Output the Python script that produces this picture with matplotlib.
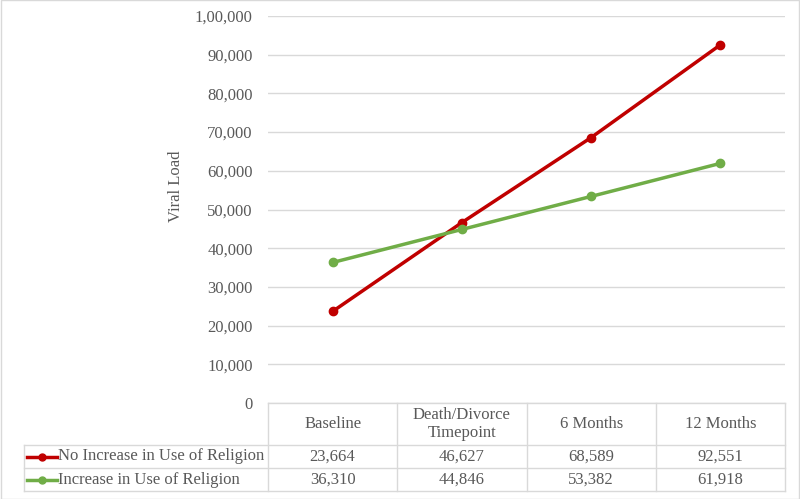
import matplotlib.pyplot as plt
from matplotlib.lines import Line2D
from matplotlib.ticker import FuncFormatter
from matplotlib.transforms import blended_transform_factory

categories = ["Baseline", "Death/Divorce\nTimepoint", "6 Months", "12 Months"]
series_names = ["No Increase in Use of Religion", "Increase in Use of Religion"]
no_increase = [23664, 46627, 68589, 92551]
increase = [36310, 44846, 53382, 61918]
colors = ["#c00000", "#70ad47"]

plt.rcParams["font.family"] = ["Liberation Serif", "DejaVu Serif"]
TXT = "#595959"
GRID = "#d9d9d9"
FS = 12


def indian_fmt(v, _pos):
    v = int(round(v))
    s = str(v)
    if len(s) <= 3:
        return s
    head, tail = s[:-3], s[-3:]
    groups = []
    while len(head) > 2:
        groups.insert(0, head[-2:])
        head = head[:-2]
    if head:
        groups.insert(0, head)
    return ",".join(groups + [tail])


fig = plt.figure(figsize=(8, 4.99), dpi=100)
ax = fig.add_axes([268 / 800, 1 - 403 / 499, 517 / 800, 387 / 499])

x = [i + 0.5 for i in range(len(categories))]
for vals, c in zip([no_increase, increase], colors):
    ax.plot(x, vals, color=c, lw=2.5, marker="o", ms=6, zorder=3)

ax.set_xlim(0, len(categories))
ax.set_ylim(0, 100000)
ax.set_yticks(range(0, 100001, 10000))
ax.yaxis.set_major_formatter(FuncFormatter(indian_fmt))
ax.set_xticks([])
ax.grid(axis="y", color=GRID, lw=1)
ax.set_axisbelow(True)
for s in ax.spines.values():
    s.set_visible(False)
ax.tick_params(axis="y", length=0, pad=11, labelsize=FS, labelcolor=TXT)
ax.set_ylabel("Viral Load", fontsize=FS, color=TXT)
ax.yaxis.set_label_coords(-0.162, 0.56)

# data table under the plot
tr = blended_transform_factory(ax.transData, fig.transFigure)
fy = lambda px: 1 - px / 499
rows_px = [403, 445, 468, 491]
left_px = 24 / 800
n = len(categories)

for xi in range(n + 1):
    ax.add_line(Line2D([xi, xi], [fy(403), fy(491)], transform=tr, color=GRID,
                       lw=1, clip_on=False))
for r in rows_px[1:]:
    fig.add_artist(Line2D([left_px, 785 / 800], [fy(r), fy(r)], color=GRID, lw=1))
fig.add_artist(Line2D([268 / 800, 785 / 800], [fy(403), fy(403)], color=GRID, lw=1))
fig.add_artist(Line2D([left_px, left_px], [fy(445), fy(491)], color=GRID, lw=1))

for xi, cat in zip(x, categories):
    ax.text(xi, fy(424), cat, transform=tr, ha="center", va="center",
            fontsize=FS, color=TXT, linespacing=1.1)

for ri, (name, vals, c) in enumerate(zip(series_names, [no_increase, increase], colors)):
    yc = fy((rows_px[ri + 1] + rows_px[ri + 2]) / 2)
    for xi, v in zip(x, vals):
        ax.text(xi, yc, f"{v:,}", transform=tr, ha="center", va="center",
                fontsize=FS, color=TXT)
    fig.add_artist(Line2D([27 / 800, 57 / 800], [yc, yc], color=c, lw=2.5))
    fig.add_artist(Line2D([42 / 800], [yc], color=c, marker="o", ms=5))
    fig.text(58 / 800, yc, name, ha="left", va="center", fontsize=FS, color=TXT)

# outer chart border
fig.add_artist(plt.Rectangle((0.001, 0.001), 0.998, 0.998, fill=False,
                             edgecolor=GRID, lw=1, transform=fig.transFigure))

fig.savefig("out.png", dpi=100)
